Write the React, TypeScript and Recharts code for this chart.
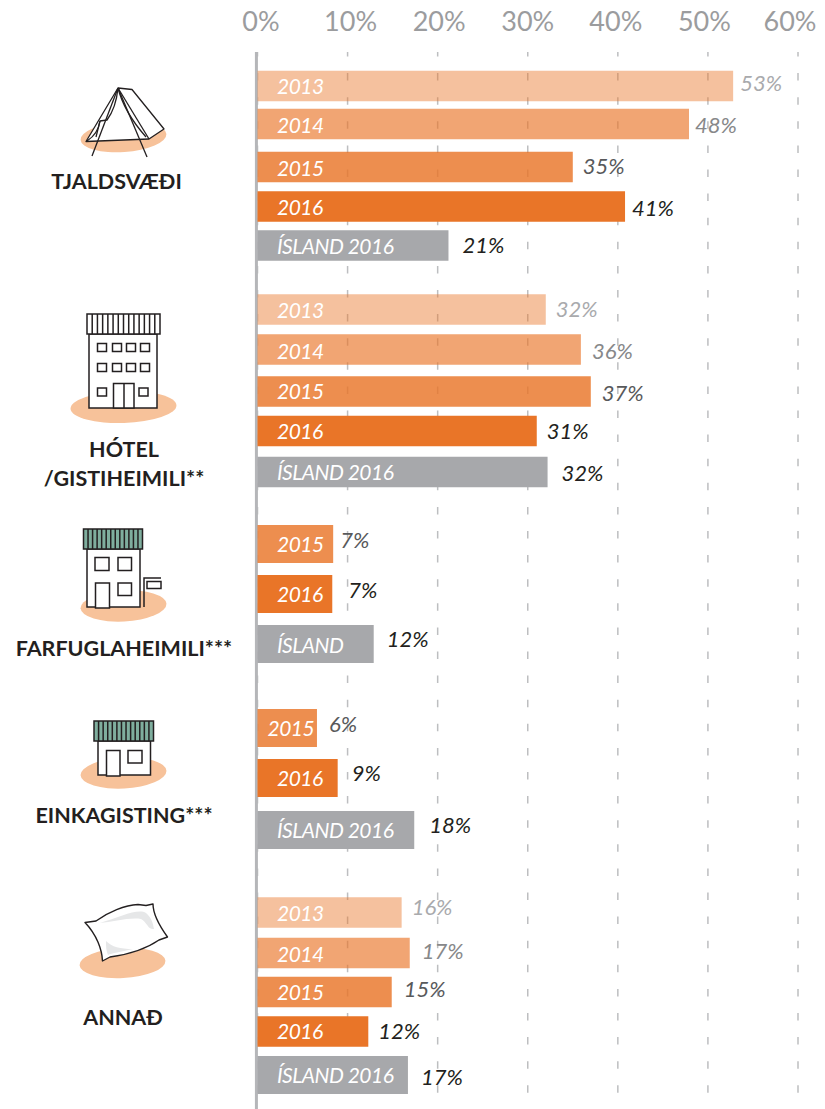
import React from "react";
import { BarChart, Bar, XAxis, YAxis, CartesianGrid, LabelList, ReferenceLine } from "recharts";

const axisTicks = [0, 10, 20, 30, 40, 50, 60];
const axisTickNudge = [3.5, 3, 1.5, 0, -2, -3.5, -8];

const tjaldRows = ["2013", "2014", "2015", "2016", "ÍSLAND 2016"];
const tjaldBars = [52.8, 47.9, 35, 40.8, 21.2];
const tjaldLabels = ["53%", "48%", "35%", "41%", "21%"];

const hotelRows = ["2013", "2014", "2015", "2016", "ÍSLAND 2016"];
const hotelBars = [32, 35.9, 37, 31, 32.2];
const hotelLabels = ["32%", "36%", "37%", "31%", "32%"];

const farfuglRows = ["2015", "2016", "ÍSLAND"];
const farfuglBars = [8.4, 8.3, 12.9];
const farfuglLabels = ["7%", "7%", "12%"];

const einkaRows = ["2015", "2016", "ÍSLAND 2016"];
const einkaBars = [6.6, 8.9, 17.4];
const einkaLabels = ["6%", "9%", "18%"];

const annadRows = ["2013", "2014", "2015", "2016", "ÍSLAND 2016"];
const annadBars = [16, 16.9, 14.9, 12.3, 16.7];
const annadLabels = ["16%", "17%", "15%", "12%", "17%"];

const FONT = "Lato, sans-serif";
const PLOT_LEFT = 257.5;
const PLOT_RIGHT = 27;
const PAD = 8;

const tone = (name: string) => {
  if (name.startsWith("Í")) return { fill: "#A7A8AB", op: 1, text: "#231F20" };
  if (name === "2013") return { fill: "#E97528", op: 0.45, text: "#A9AAAD" };
  if (name === "2014") return { fill: "#E97528", op: 0.65, text: "#87888A" };
  if (name === "2015") return { fill: "#E97528", op: 0.82, text: "#58595B" };
  return { fill: "#E97528", op: 1, text: "#231F20" };
};

const build = (rows: string[], bars: number[], labels: string[]) =>
  rows.map((row, i) => ({ row, value: bars[i], label: labels[i] }));

const panels = [
  { top: 66, pitch: 40, size: 30.5, data: build(tjaldRows, tjaldBars, tjaldLabels),
    rowDy: [0, -2, 1, 0.5, -0.5], textDy: [0, 1, 1, 0.5, 0.5], valDx: [7, 6, 10, 7, 14], valDy: [-3, 1.5, -0.5, 1.5, -0.5], nameDx: [0, 0, 0, 0, 0], lastSize: 30.5 },
  { top: 290.5, pitch: 40, size: 30.5, data: build(hotelRows, hotelBars, hotelLabels),
    rowDy: [-1.5, -1.5, 0.5, 0, 1], textDy: [1, 2, 0, 0, 0], valDx: [10, 11, 11, 10, 14], valDy: [-0.5, 1.5, 1.5, 0, 1], nameDx: [0, 0, 0, 0, 0], lastSize: 30.5 },
  { top: 519, pitch: 50, size: 38, data: build(farfuglRows, farfuglBars, farfuglLabels),
    rowDy: [0, 0, 0], textDy: [0, 0, 1], valDx: [7, 16, 13], valDy: [-3.5, -3.5, -4.5], nameDx: [0, 0, 0], lastSize: 38 },
  { top: 704, pitch: 50, size: 38, data: build(einkaRows, einkaBars, einkaLabels),
    rowDy: [-1, -1, 1], textDy: [0, 0, 0], valDx: [12, 14, 15], valDy: [-3.5, -4.5, -4.5], nameDx: [-9.5, 0, 0], lastSize: 38 },
  { top: 893, pitch: 40, size: 30.5, data: build(annadRows, annadBars, annadLabels),
    rowDy: [-0.5, 0, -1, -1.5, 2], textDy: [1, 1, 0, 0, 0], valDx: [10, 12, 12, 10, 13], valDy: [-5, -1.5, -2.5, 0, 2.5], nameDx: [0, 0, 0, 0, 0], lastSize: 38 },
];

const AxisTick = (p: any) => (
  <text x={p.x + axisTickNudge[p.index]} y={31} textAnchor="middle" fontFamily={FONT} fontSize={27} fill="#9B9C9E">
    {p.payload.value}%
  </text>
);

const Panel = ({ spec }: { spec: (typeof panels)[number] }) => {
  const n = spec.data.length;
  const shape = (p: any) => {
    const t = tone(p.payload.row);
    const h = p.index === n - 1 ? spec.lastSize : spec.size;
    const cy = p.y + p.height / 2 + spec.rowDy[p.index];
    return <rect x={p.x} y={cy - h / 2} width={p.width} height={h} fill={t.fill} fillOpacity={t.op} />;
  };
  const rowText = (p: any) => {
    const v = p.viewBox ?? p;
    const i = p.index;
    const cy = v.y + v.height / 2 + spec.rowDy[i] + spec.textDy[i];
    return (
      <text x={v.x + 19.5 + spec.nameDx[i]} y={cy} dy="0.36em" fontFamily={FONT} fontStyle="italic" fontSize={21} letterSpacing={-0.5} fill="#FFFFFF">
        {spec.data[i].row}
      </text>
    );
  };
  const valText = (p: any) => {
    const v = p.viewBox ?? p;
    const i = p.index;
    const cy = v.y + v.height / 2 + spec.rowDy[i] + spec.valDy[i];
    return (
      <text x={v.x + v.width + spec.valDx[i]} y={cy} dy="0.36em" fontFamily={FONT} fontStyle="italic" fontSize={22} fill={tone(spec.data[i].row).text}>
        {spec.data[i].label}
      </text>
    );
  };
  return (
    <div style={{ position: "absolute", left: 0, top: spec.top - PAD }}>
      <BarChart
        width={825}
        height={n * spec.pitch + PAD * 2}
        layout="vertical"
        data={spec.data}
        barCategoryGap={0}
        margin={{ top: PAD, bottom: PAD, left: PLOT_LEFT, right: PLOT_RIGHT }}
      >
        <XAxis type="number" domain={[0, 60]} hide />
        <YAxis type="category" dataKey="row" hide />
        <Bar dataKey="value" isAnimationActive={false} shape={shape}>
          <LabelList dataKey="row" content={rowText} />
          <LabelList dataKey="label" content={valText} />
        </Bar>
      </BarChart>
    </div>
  );
};

const INK = "#231F20";
const PEACH = "#F7C29A";
const GREEN = "#7FAE9E";

const Roof = ({ x, y, w, h, fill, n }: any) => (
  <g>
    <rect x={x} y={y} width={w} height={h} fill={fill} stroke={INK} strokeWidth={1.5} />
    {Array.from({ length: n }, (_, i) => {
      const lx = x + ((i + 1) * w) / (n + 1);
      return <line key={i} x1={lx} x2={lx} y1={y} y2={y + h} stroke={INK} strokeWidth={1.5} />;
    })}
  </g>
);
const Win = ({ x, y, w, h }: any) => <rect x={x} y={y} width={w} height={h} fill="#fff" stroke={INK} strokeWidth={1.5} />;

const Icons = () => (
  <svg width={825} height={1109} style={{ position: "absolute", left: 0, top: 0, pointerEvents: "none" }}>
    {/* tent */}
    <ellipse cx={123.5} cy={137} rx={43} ry={15} fill={PEACH} transform="rotate(-4 123.5 137)" />
    <g fill="#fff" stroke={INK} strokeWidth={1.3} strokeLinejoin="round">
      <path d="M118 88 L132 89.5 L164 129 L149 139 L86 141.5 Z" />
      <path d="M118 88 L149 139" fill="none" />
      <path d="M118 88 L92 156" fill="none" />
      <path d="M118 88 L147 157" fill="none" />
      <path d="M118 88 Q116 108 107 120 L100 121 Q98 134 87 141" fill="none" />
      <path d="M118 88 Q124 112 146 137" fill="none" />
      <path d="M100 121 L96 137" fill="none" />
    </g>
    {/* hotel */}
    <ellipse cx={123.5} cy={407} rx={53} ry={16} fill={PEACH} transform="rotate(-2 123.5 407)" />
    <rect x={89} y={334} width={68} height={74} fill="#fff" stroke={INK} strokeWidth={1.5} />
    <Roof x={87} y={314} w={73} h={20} fill="#fff" n={13} />
    {[102, 117, 131, 145].map((x) => [348, 368].map((y) => <Win key={`${x}-${y}`} x={x - 4.5} y={y - 4.5} w={9} h={8} />))}
    <Win x={97.5} y={388} w={9} h={8} />
    <Win x={139} y={388} w={9} h={8} />
    <rect x={113.5} y={383.5} width={20.5} height={24.5} fill="#fff" stroke={INK} strokeWidth={1.5} />
    <line x1={124} x2={124} y1={383.5} y2={408} stroke={INK} strokeWidth={1.5} />
    {/* hostel */}
    <ellipse cx={123.5} cy={606} rx={43} ry={15.5} fill={PEACH} transform="rotate(-3 123.5 606)" />
    <rect x={87} y={549} width={53} height={58} fill="#fff" stroke={INK} strokeWidth={1.5} />
    <Roof x={83.5} y={529} w={59} h={20} fill={GREEN} n={12} />
    <Win x={95} y={557.5} w={14} h={13} />
    <Win x={118} y={557.5} w={13.5} h={13} />
    <Win x={95.5} y={583} w={14} h={25} />
    <Win x={118} y={583} w={13.5} h={12.5} />
    <path d="M144 607 V578 H161" fill="none" stroke={INK} strokeWidth={1.5} />
    <rect x={147} y={581.5} width={14} height={7} fill="none" stroke={INK} strokeWidth={1.5} />
    {/* guest house */}
    <ellipse cx={123.5} cy={773} rx={43} ry={15.5} fill={PEACH} transform="rotate(-3 123.5 773)" />
    <rect x={98} y={741} width={52.5} height={34} fill="#fff" stroke={INK} strokeWidth={1.5} />
    <Roof x={94} y={721} w={59.5} h={20} fill={GREEN} n={12} />
    <Win x={106.5} y={750.5} w={13.5} h={25.5} />
    <Win x={128} y={750.5} w={14} h={12.5} />
    {/* pillow */}
    <ellipse cx={122.5} cy={963} rx={43} ry={15} fill={PEACH} transform="rotate(-3 122.5 963)" />
    <path
      d="M85 922.5 L96 921 C108 912 125 905 138 904.5 L146 905.5 L153 904 C153 916 161 928 167.5 937 L159 940 C143 951 125 955 110 957 L102.5 961 C102 950 97 935 85 922.5 Z"
      fill="#fff" stroke={INK} strokeWidth={1.4} strokeLinejoin="round"
    />
    <path d="M100 923 C120 917 138 908 146 913 C152 918 153 924 154 929 C148 930 147 922 141 919 C130 917 112 922 100 923 Z" fill="#E6E7E8" />
    <path d="M106 941 C112 947 120 949 133 949 C120 952 112 953 108 955 C106 951 106 946 106 941 Z" fill="#E6E7E8" />
    {/* names */}
    <g fontFamily={FONT} fontWeight={700} fontSize={21.5} fill={INK} textAnchor="middle">
      <text x={116.5} y={189}>TJALDSVÆÐI</text>
      <text x={124} y={457}>HÓTEL</text>
      <text x={124} y={486}>/GISTIHEIMILI**</text>
      <text x={124} y={656}>FARFUGLAHEIMILI***</text>
      <text x={124} y={823}>EINKAGISTING***</text>
      <text x={123} y={1025}>ANNAÐ</text>
    </g>
  </svg>
);

export default function App() {
  return (
    <div style={{ position: "absolute", left: 0, top: 0, width: 825, height: 1109, overflow: "hidden", background: "#fff" }}>
      <div style={{ position: "absolute", left: 0, top: 0 }}>
        <BarChart
          width={825}
          height={1109}
          layout="vertical"
          data={tjaldRows.map((row) => ({ row, base: 0 }))}
          margin={{ top: 0, bottom: 0, left: PLOT_LEFT, right: PLOT_RIGHT }}
        >
          <CartesianGrid horizontal={false} stroke="#BDBEC0" strokeWidth={1.5} strokeDasharray="7.5 16.6" strokeDashoffset={3} />
          <XAxis
            type="number"
            orientation="top"
            domain={[0, 60]}
            ticks={axisTicks}
            height={52}
            axisLine={false}
            tickLine={false}
            interval={0}
            tick={AxisTick}
          />
          <YAxis type="category" dataKey="row" hide />
          <Bar dataKey="base" isAnimationActive={false} fill="none" />
          <ReferenceLine x={-0.12} stroke="#B5B6B9" strokeWidth={3} ifOverflow="visible" />
        </BarChart>
      </div>
      {panels.map((spec) => (
        <Panel key={spec.top} spec={spec} />
      ))}
      <Icons />
    </div>
  );
}
